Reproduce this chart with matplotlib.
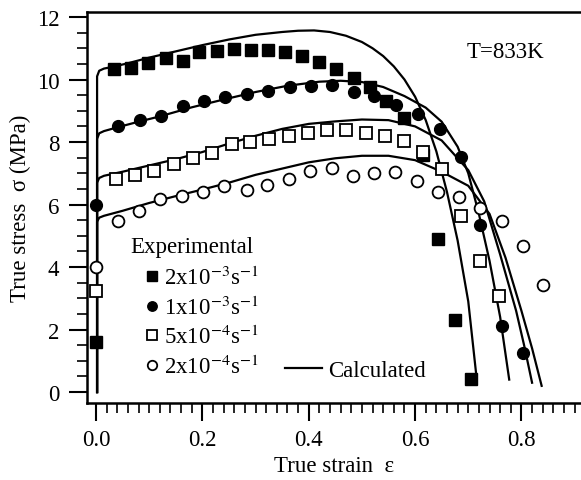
import numpy as np
import matplotlib
matplotlib.use('Agg')
import matplotlib.pyplot as plt
from matplotlib.ticker import MultipleLocator, FormatStrFormatter
from matplotlib.lines import Line2D

plt.rcParams['font.family'] = ['Liberation Serif', 'DejaVu Serif']
plt.rcParams['mathtext.fontset'] = 'stix'

# experimental points, strain vs true stress (MPa)
exp_2e3_x = [0.0, 0.033, 0.066, 0.097, 0.131, 0.163, 0.194, 0.227, 0.259, 0.291, 0.324, 0.355,
             0.388, 0.42, 0.452, 0.486, 0.516, 0.546, 0.58, 0.614, 0.643, 0.675, 0.706]
exp_2e3_y = [1.6, 10.34, 10.37, 10.52, 10.68, 10.6, 10.87, 10.92, 10.98, 10.95, 10.95, 10.87,
             10.74, 10.55, 10.35, 10.05, 9.75, 9.32, 8.77, 7.58, 4.9, 2.31, 0.42]

exp_1e3_x = [0.0, 0.042, 0.083, 0.122, 0.164, 0.203, 0.242, 0.283, 0.323, 0.365, 0.404, 0.443,
             0.485, 0.523, 0.564, 0.606, 0.646, 0.686, 0.722, 0.763, 0.803]
exp_1e3_y = [6.0, 8.52, 8.71, 8.84, 9.14, 9.32, 9.43, 9.54, 9.64, 9.75, 9.8, 9.82,
             9.61, 9.47, 9.18, 8.9, 8.42, 7.51, 5.34, 2.12, 1.25]

exp_5e4_x = [0.0, 0.037, 0.073, 0.109, 0.147, 0.183, 0.219, 0.255, 0.289, 0.325, 0.363, 0.399,
             0.435, 0.471, 0.508, 0.543, 0.58, 0.615, 0.65, 0.687, 0.723, 0.758]
exp_5e4_y = [3.25, 6.82, 6.93, 7.08, 7.3, 7.48, 7.65, 7.94, 8.01, 8.1, 8.18, 8.3,
             8.37, 8.4, 8.3, 8.2, 8.04, 7.69, 7.14, 5.64, 4.2, 3.08]

exp_2e4_x = [0.0, 0.042, 0.081, 0.12, 0.161, 0.202, 0.241, 0.283, 0.322, 0.363, 0.402, 0.443,
             0.484, 0.523, 0.563, 0.604, 0.643, 0.683, 0.723, 0.763, 0.802, 0.841]
exp_2e4_y = [4.0, 5.48, 5.8, 6.18, 6.28, 6.41, 6.6, 6.45, 6.62, 6.82, 7.08, 7.16,
             6.92, 7.01, 7.05, 6.76, 6.41, 6.25, 5.88, 5.46, 4.67, 3.43]

# calculated curves
calc_2e3_x = [0.002, 0.002, 0.006, 0.015, 0.03, 0.06, 0.1, 0.15, 0.2, 0.25, 0.3, 0.35, 0.38,
              0.41, 0.44, 0.47, 0.5, 0.52, 0.54, 0.56, 0.58, 0.6, 0.62, 0.64, 0.66, 0.68,
              0.70, 0.716]
calc_2e3_y = [0.0, 10.1, 10.28, 10.35, 10.4, 10.52, 10.7, 10.9, 11.1, 11.28, 11.43, 11.52, 11.56,
              11.57, 11.52, 11.4, 11.2, 11.0, 10.75, 10.42, 10.0, 9.45, 8.7, 7.7, 6.4, 4.85,
              2.9, 0.4]

calc_1e3_x = [0.002, 0.002, 0.006, 0.015, 0.04, 0.08, 0.12, 0.18, 0.24, 0.3, 0.36, 0.42, 0.46,
              0.5, 0.54, 0.58, 0.62, 0.65, 0.68, 0.70, 0.72, 0.74, 0.76, 0.777]
calc_1e3_y = [0.0, 8.1, 8.28, 8.35, 8.47, 8.65, 8.82, 9.11, 9.36, 9.6, 9.8, 9.93, 9.96,
              9.92, 9.76, 9.47, 9.1, 8.65, 7.85, 7.0, 5.7, 4.2, 2.4, 0.4]

calc_5e4_x = [0.002, 0.002, 0.006, 0.015, 0.05, 0.1, 0.15, 0.2, 0.25, 0.3, 0.35, 0.4, 0.45,
              0.5, 0.55, 0.6, 0.65, 0.7, 0.73, 0.76, 0.79, 0.805, 0.82]
calc_5e4_y = [0.0, 6.7, 6.85, 6.92, 7.05, 7.25, 7.45, 7.68, 7.95, 8.2, 8.42, 8.58, 8.66,
              8.72, 8.7, 8.5, 8.05, 7.1, 6.1, 4.4, 2.6, 1.5, 0.3]

calc_2e4_x = [0.002, 0.002, 0.006, 0.015, 0.05, 0.1, 0.15, 0.2, 0.25, 0.3, 0.35, 0.4, 0.45,
              0.5, 0.55, 0.6, 0.65, 0.7, 0.74, 0.77, 0.8, 0.82, 0.838]
calc_2e4_y = [0.0, 5.45, 5.58, 5.64, 5.8, 6.05, 6.27, 6.48, 6.7, 6.95, 7.15, 7.35, 7.48,
              7.56, 7.56, 7.42, 7.05, 6.6, 5.7, 4.3, 2.6, 1.4, 0.2]

labels = ['2x10$^{-3}$s$^{-1}$', '1x10$^{-3}$s$^{-1}$',
          '5x10$^{-4}$s$^{-1}$', '2x10$^{-4}$s$^{-1}$']

fs = 16.5
fig = plt.figure(figsize=(5.81, 4.81), dpi=100)
ax = fig.add_axes([0.1497, 0.16, 0.8503, 0.813])

for cx, cy in [(calc_2e3_x, calc_2e3_y), (calc_1e3_x, calc_1e3_y),
               (calc_5e4_x, calc_5e4_y), (calc_2e4_x, calc_2e4_y)]:
    ax.plot(cx, cy, color='black', lw=1.6, zorder=2)

ms = 8.5
h1, = ax.plot(exp_2e3_x, exp_2e3_y, 's', color='black', ms=ms, zorder=3, clip_on=False)
h2, = ax.plot(exp_1e3_x, exp_1e3_y, 'o', color='black', ms=ms, zorder=3, clip_on=False)
h3, = ax.plot(exp_5e4_x, exp_5e4_y, 's', mfc='white', mec='black', mew=1.3, ms=ms, zorder=3, clip_on=False)
h4, = ax.plot(exp_2e4_x, exp_2e4_y, 'o', mfc='white', mec='black', mew=1.3, ms=ms, zorder=3, clip_on=False)

ax.set_xlim(-0.017, 0.912)
ax.set_ylim(-0.35, 12.16)

ax.xaxis.set_major_locator(MultipleLocator(0.2))
ax.xaxis.set_minor_locator(MultipleLocator(0.02))
ax.xaxis.set_major_formatter(FormatStrFormatter('%.1f'))
ax.yaxis.set_major_locator(MultipleLocator(2))
ax.yaxis.set_minor_locator(MultipleLocator(0.5))

ax.spines['right'].set_visible(False)
for s in ['left', 'bottom', 'top']:
    ax.spines[s].set_linewidth(1.8)
ax.tick_params(which='major', direction='out', length=13, width=1.5, labelsize=fs)
ax.tick_params(which='minor', direction='out', length=7, width=1.2)
ax.tick_params(axis='x', which='major', pad=6)
ax.tick_params(axis='y', which='major', pad=7)

ax.set_xlabel('True strain  ε', fontsize=fs, labelpad=3)
ax.set_ylabel('True stress  σ (MPa)', fontsize=fs, labelpad=4)

ax.text(0.769, 0.898, 'T=833K', transform=ax.transAxes, fontsize=fs, va='center', ha='left')
ax.text(0.087, 0.40, 'Experimental', transform=ax.transAxes, fontsize=fs, va='center', ha='left')

leg1 = ax.legend([h1, h2, h3, h4], labels, loc='upper left', bbox_to_anchor=(0.108, 0.35),
                 frameon=False, fontsize=fs, handlelength=1.0, handletextpad=0.05,
                 labelspacing=0.27, borderpad=0, borderaxespad=0, markerscale=0.8)
ax.add_artist(leg1)
calc_handle = Line2D([], [], color='black', lw=1.6)
ax.legend([calc_handle], ['Calculated'], loc='center left', bbox_to_anchor=(0.401, 0.084),
          frameon=False, fontsize=fs, handlelength=1.6, handletextpad=0.3,
          borderpad=0, borderaxespad=0)

fig.savefig('out.png', dpi=100)
